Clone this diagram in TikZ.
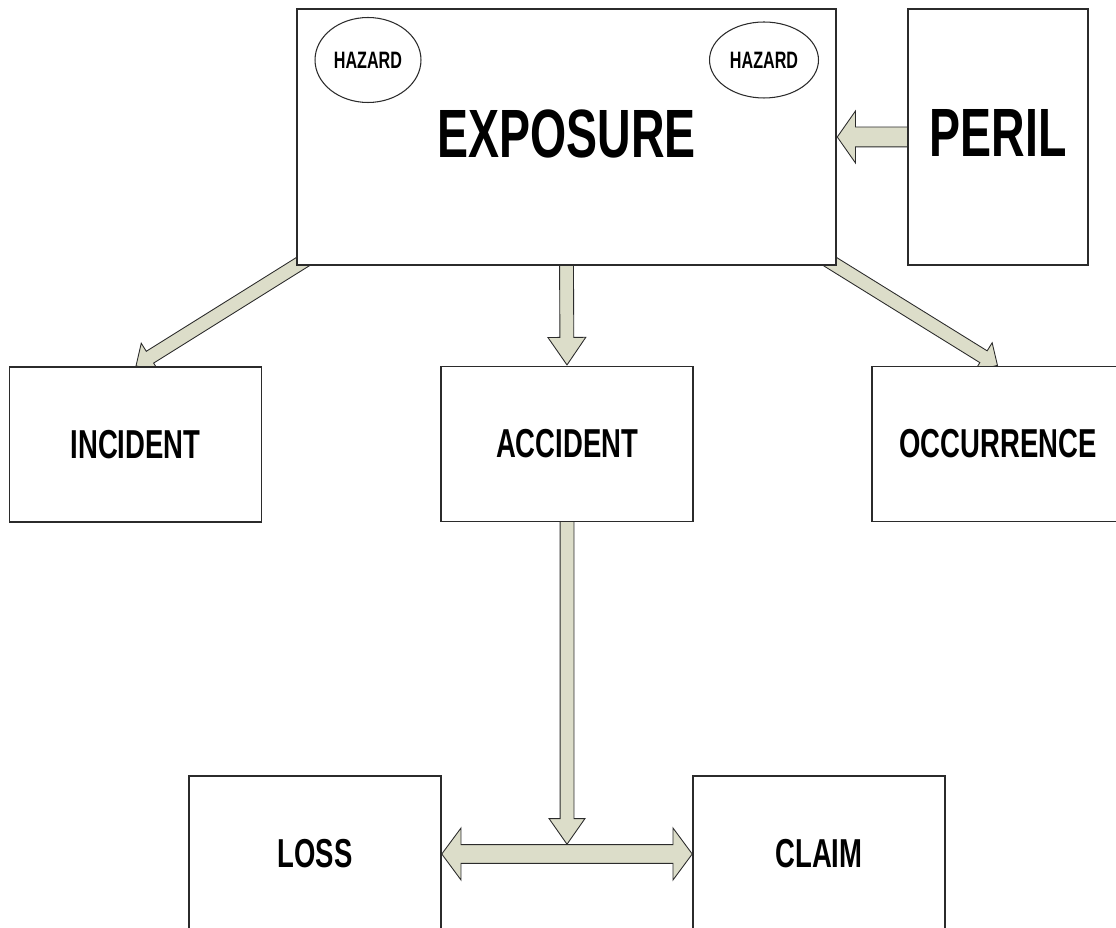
\documentclass[tikz,border=0pt]{standalone}
\usepackage{fontspec}
\usetikzlibrary{shapes.geometric, shapes.arrows, calc, backgrounds}
\newfontfamily\diagfont{Liberation Sans}[FakeStretch=0.68]
\definecolor{arrowkhaki}{HTML}{DCDDC9}
\definecolor{edgegrey}{HTML}{2B2B2B}
\tikzset{
  box/.style={rectangle, draw=edgegrey, fill=white, line width=0.9pt, inner sep=0pt,
              minimum width=5.04cm, minimum height=3.1cm,
              font=\diagfont\bfseries\fontsize{23}{26}\selectfont},
  bigbox/.style={box, minimum height=5.12cm, font=\diagfont\bfseries\fontsize{38.9}{42}\selectfont},
  hazard/.style={ellipse, draw=edgegrey, line width=0.6pt, inner sep=0pt,
                 font=\diagfont\bfseries\fontsize{13.5}{15}\selectfont},
  onearrow/.style={single arrow, draw=edgegrey, fill=arrowkhaki, line width=0.5pt, inner xsep=0pt, anchor=tip},
  twoarrow/.style={double arrow, draw=edgegrey, fill=arrowkhaki, line width=0.5pt, inner xsep=0pt},
}
% block arrow ending on a named point, tail tucked under the source box
\newcommand{\bigarrow}[3][]{%
  \path let \p1=($(#3)-(#2)$), \n1={veclen(\x1,\y1)+6}, \n2={atan2(\y1,\x1)} in
    node[onearrow, #1, minimum height=\n1, rotate=\n2] at (#3) {};}

\begin{document}
\begin{tikzpicture}[x=0.02cm, y=-0.02cm]
  \useasboundingbox (0,0) rectangle (1116,928);
  % top row
  \node[bigbox, minimum width=10.78cm] (exposure) at (566.5,137) {\raisebox{4pt}{EXPOSURE}};
  \node[bigbox, minimum width=3.6cm] (peril) at (998,137) {\raisebox{4pt}{PERIL}};
  \node[hazard, minimum width=2.12cm, minimum height=1.7cm] (hazardl) at (368,60) {HAZARD};
  \node[hazard, minimum width=2.18cm, minimum height=1.52cm] (hazardr) at (764,60) {HAZARD};
  % middle row
  \node[box] (incident) at (135.5,444.5) {INCIDENT};
  \node[box] (accident) at (567,444) {ACCIDENT};
  \node[box] (occurrence) at (998,444) {OCCURRENCE};
  % bottom row, cut by the page edge
  \node[box, minimum height=3.12cm] (loss) at (315,854) {LOSS};
  \node[box, minimum height=3.12cm] (claim) at (819,854) {CLAIM};
  \coordinate (join) at ($(loss.east)!0.5!(claim.west)$);
  \coordinate (jointop) at ($(join)+(0,-9)$);
  % arrows
  \begin{scope}[on background layer]
    \bigarrow[inner ysep=0.19cm, single arrow head extend=0.32cm, single arrow tip angle=110]{peril.west}{exposure.east}
    \bigarrow[inner ysep=0.13cm, single arrow head extend=0.24cm, single arrow tip angle=69]{exposure.south}{accident.north}
    \bigarrow[inner ysep=0.13cm, single arrow head extend=0.19cm, single arrow tip angle=90]{exposure.south west}{incident.north}
    \bigarrow[inner ysep=0.13cm, single arrow head extend=0.19cm, single arrow tip angle=90]{exposure.south east}{occurrence.north}
    \bigarrow[inner ysep=0.13cm, single arrow head extend=0.22cm, single arrow tip angle=70]{accident.south}{jointop}
    \path let \p1=($(claim.west)-(loss.east)$), \n1={veclen(\x1,\y1)} in
      node[twoarrow, inner ysep=0.18cm, double arrow head extend=0.33cm, double arrow tip angle=107,
           minimum height=\n1] at (join) {};
  \end{scope}
\end{tikzpicture}
\end{document}
